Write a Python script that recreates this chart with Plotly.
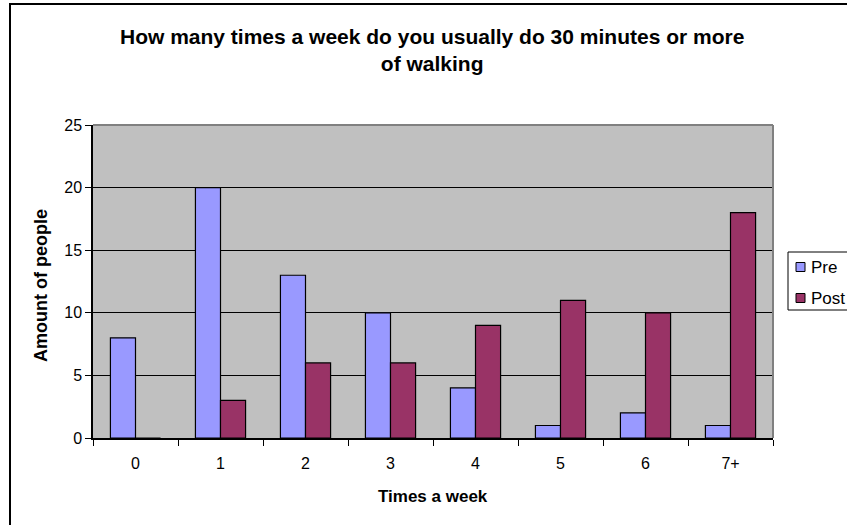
import plotly.graph_objects as go

categories = ["0", "1", "2", "3", "4", "5", "6", "7+"]
pre_values = [8, 20, 13, 10, 4, 1, 2, 1]
post_values = [0, 3, 6, 6, 9, 11, 10, 18]
y_ticks = [0, 5, 10, 15, 20, 25]
series_names = ["Pre", "Post"]
series_colors = ["#9999FF", "#993366"]

W, H = 847, 525
L, R, T, B = 93, 74, 125, 87
pw, ph = W - L - R, H - T - B

def px_x(x):
    return (x - L) / pw

def px_y(y):
    return (H - B - y) / ph

FONT = "Arial, Liberation Sans, sans-serif"

fig = go.Figure()
for name, vals, col in zip(series_names, [pre_values, post_values], series_colors):
    fig.add_trace(go.Bar(name=name, x=categories, y=vals,
                         marker=dict(color=col, line=dict(color="black", width=1.2))))

fig.update_layout(
    width=W, height=H,
    margin=dict(l=L, r=R, t=T, b=B, autoexpand=False),
    paper_bgcolor="white",
    plot_bgcolor="#C0C0C0",
    barmode="group",
    bargap=0.41,
    bargroupgap=0,
    font=dict(family=FONT, color="black"),
    showlegend=False,
)

fig.update_xaxes(type="category", showgrid=False, showline=True, linecolor="black", linewidth=1.5,
                 ticks="outside", tickson="boundaries", ticklen=6, tickcolor="black", tickwidth=1,
                 tickfont=dict(size=16, family=FONT), ticklabelstandoff=10, zeroline=False)
fig.update_yaxes(range=[0, 25], tickvals=y_ticks, showgrid=True, gridcolor="black", gridwidth=1,
                 showline=True, linecolor="black", linewidth=1.5,
                 ticks="outside", ticklen=6, tickcolor="black", tickwidth=1,
                 tickfont=dict(size=16, family=FONT), zeroline=False)

# plot-area frame (top/right gray)
fig.add_shape(type="line", xref="paper", yref="paper", x0=0, x1=1, y0=1, y1=1,
              line=dict(color="#808080", width=2), layer="above")
fig.add_shape(type="line", xref="paper", yref="paper", x0=1, x1=1, y0=0, y1=1,
              line=dict(color="#808080", width=2), layer="above")
# outer chart border
fig.add_shape(type="rect", xref="paper", yref="paper",
              x0=px_x(10), x1=px_x(880), y0=px_y(560), y1=px_y(4),
              line=dict(color="black", width=2), fillcolor="rgba(0,0,0,0)", layer="above")

# title
fig.add_annotation(text="<b>How many times a week do you usually do 30 minutes or more<br>of walking</b>",
                   xref="paper", yref="paper", x=px_x(432), y=px_y(50),
                   xanchor="center", yanchor="middle", align="center", showarrow=False,
                   font=dict(size=21, family=FONT, color="black"))
# axis titles
fig.add_annotation(text="<b>Times a week</b>", xref="paper", yref="paper",
                   x=px_x(433), y=px_y(497), xanchor="center", yanchor="middle",
                   showarrow=False, font=dict(size=17, family=FONT, color="black"))
fig.add_annotation(text="<b>Amount of people</b>", xref="paper", yref="paper",
                   x=px_x(41), y=px_y(285), xanchor="center", yanchor="middle", textangle=-90,
                   showarrow=False, font=dict(size=18, family=FONT, color="black"))

# legend box (clipped at the right edge as in the reference)
fig.add_shape(type="rect", xref="paper", yref="paper",
              x0=px_x(788), x1=px_x(900), y0=px_y(310), y1=px_y(252),
              line=dict(color="black", width=1), fillcolor="white", layer="above")
legend_rows_y = [267, 298]
for name, col, ly in zip(series_names, series_colors, legend_rows_y):
    fig.add_shape(type="rect", xref="paper", yref="paper",
                  x0=px_x(796), x1=px_x(805), y0=px_y(ly + 4.5), y1=px_y(ly - 4.5),
                  line=dict(color="black", width=1), fillcolor=col, layer="above")
    fig.add_annotation(text=name, xref="paper", yref="paper", x=px_x(809), y=px_y(ly),
                       xanchor="left", yanchor="middle", showarrow=False,
                       font=dict(size=17, family=FONT, color="black"))

fig.write_html("out.html", config={"displayModeBar": False},
               post_script="document.body.style.margin='0';")
